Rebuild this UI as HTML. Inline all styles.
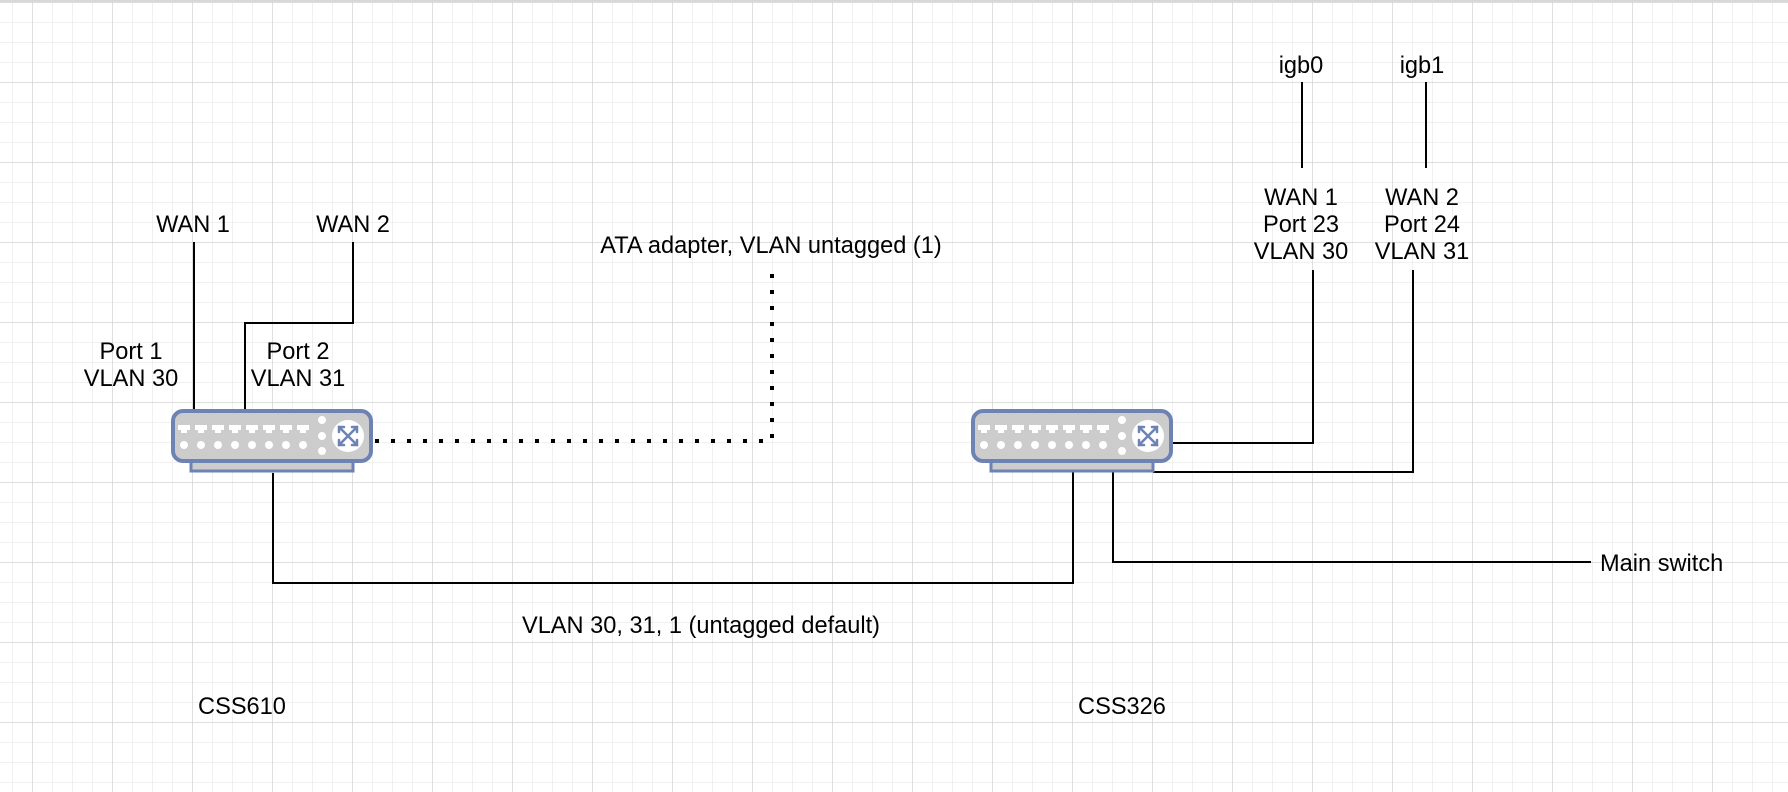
<!DOCTYPE html>
<html><head><meta charset="utf-8"><style>
html,body{margin:0;padding:0;background:#fff;}
svg{display:block;}
text{font-family:"Liberation Sans",Arial,sans-serif;font-size:23.6px;fill:#000;}
</style></head><body>
<svg width="1788" height="792" viewBox="0 0 1788 792" xmlns="http://www.w3.org/2000/svg">
<defs>
<pattern id="minor" x="12" y="2" width="20" height="20" patternUnits="userSpaceOnUse">
<path d="M0 0V20M0 0H20" stroke="#ececec" stroke-width="1.5" fill="none"/>
</pattern>
<pattern id="major" x="32" y="2" width="80" height="80" patternUnits="userSpaceOnUse">
<path d="M0 0V80M0 0H80" stroke="#d0d0d0" stroke-width="1.2" fill="none"/>
</pattern>
<g id="sw">
<rect x="20" y="52" width="162" height="10" fill="#cccccc" stroke="#6d83b3" stroke-width="3"/>
<rect x="2" y="2" width="198" height="50" rx="10" fill="#cccccc" stroke="#6d83b3" stroke-width="4"/>
<g fill="#fff">
<path id="pt" d="M7 16h12v5h-3v3h-6v-3h-3z"/>
<use href="#pt" x="17"/><use href="#pt" x="34"/><use href="#pt" x="51"/><use href="#pt" x="68"/><use href="#pt" x="85"/><use href="#pt" x="102"/><use href="#pt" x="119"/>
<circle cx="13" cy="36" r="4"/><circle cx="30" cy="36" r="4"/><circle cx="47" cy="36" r="4"/><circle cx="64" cy="36" r="4"/><circle cx="81" cy="36" r="4"/><circle cx="98" cy="36" r="4"/><circle cx="115" cy="36" r="4"/><circle cx="132" cy="36" r="4"/>
<circle cx="151" cy="11" r="4"/><circle cx="151" cy="27" r="4"/><circle cx="151" cy="42" r="4"/>
<circle cx="177" cy="27" r="16"/>
</g>
<g stroke="#6d83b3" stroke-width="2.5" fill="none" stroke-linecap="round">
<path d="M168 18L186 36M186 18L168 36"/>
<path d="M168 23V18H173M186 23V18H181M168 31V36H173M186 31V36H181"/>
</g>
</g>
</defs>
<rect width="1788" height="792" fill="url(#minor)"/>
<rect width="1788" height="792" fill="url(#major)"/>
<rect width="1788" height="2" fill="#d8d8d8"/>

<g stroke="#000" stroke-width="2" fill="none">
<path d="M194 242V413"/>
<path d="M353 242V323H245V413"/>
<path d="M273 473V583H1073V464"/>
<path d="M1302 82V168"/>
<path d="M1426 82V168"/>
<path d="M1173 443H1313V270"/>
<path d="M1153 472H1413V270"/>
<path d="M1113 464V562H1591"/>
<path d="M375 441H772V270" stroke-width="4" stroke-dasharray="4 12"/>
</g>

<use href="#sw" x="171" y="409"/>
<use href="#sw" x="971" y="409"/>

<g text-anchor="middle">
<text x="193" y="232">WAN 1</text>
<text x="353" y="232">WAN 2</text>
<text x="131" y="359">Port 1</text>
<text x="131" y="386">VLAN 30</text>
<text x="298" y="359">Port 2</text>
<text x="298" y="386">VLAN 31</text>
<text x="771" y="253">ATA adapter, VLAN untagged (1)</text>
<text x="701" y="633">VLAN 30, 31, 1 (untagged default)</text>
<text x="242" y="714">CSS610</text>
<text x="1122" y="714">CSS326</text>
<text x="1301" y="73">igb0</text>
<text x="1422" y="73">igb1</text>
<text x="1301" y="205">WAN 1</text>
<text x="1301" y="232">Port 23</text>
<text x="1301" y="259">VLAN 30</text>
<text x="1422" y="205">WAN 2</text>
<text x="1422" y="232">Port 24</text>
<text x="1422" y="259">VLAN 31</text>
</g>
<text x="1600" y="571">Main switch</text>
</svg>
</body></html>
